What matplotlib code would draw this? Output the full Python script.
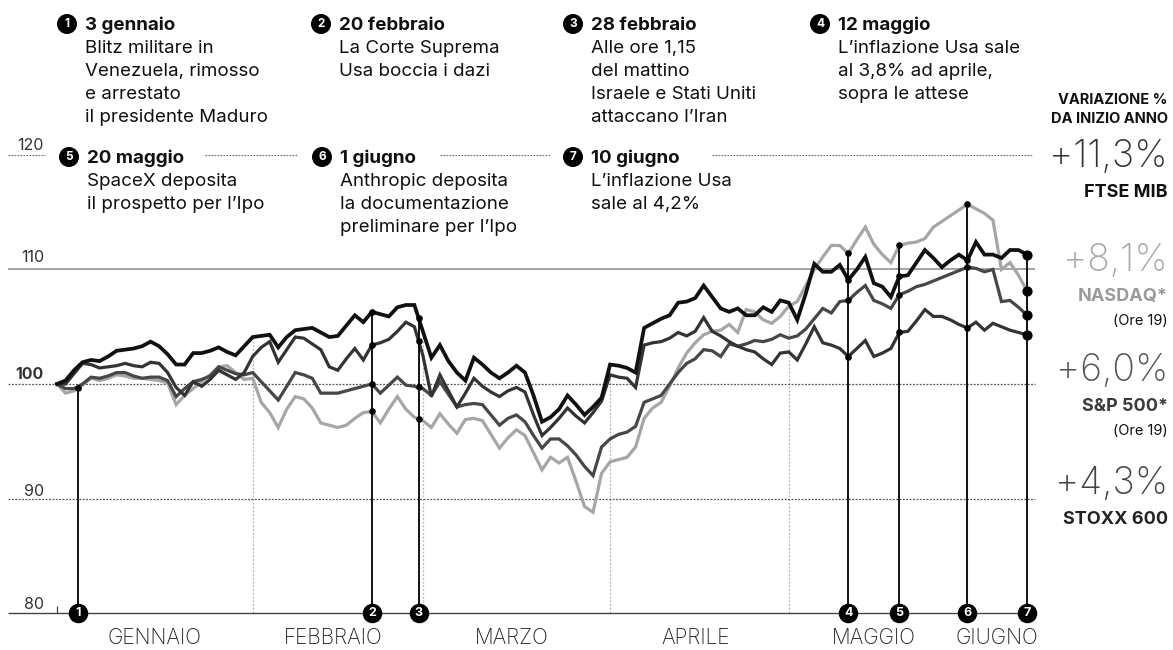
import matplotlib.pyplot as plt
import numpy as np
import pandas as pd

# sedute di borsa dal 31/12/2025 al 10/06/2026 (Venerdi Santo chiuso)
sessions = pd.bdate_range("2025-12-31", "2026-06-10")
sessions = sessions[sessions != pd.Timestamp("2026-04-03")]

# indici, base 100 al 31 dicembre
ftse = [100.0, 100.3, 101.2, 101.9, 102.1, 102.0, 102.4, 102.9, 103.0, 103.1,
        103.3, 103.7, 103.3, 102.6, 101.7, 101.7, 102.7, 102.7, 102.9, 103.2,
        102.8, 102.5, 103.3, 104.1, 104.2, 104.3, 103.2, 104.1, 104.7, 104.8,
        104.9, 104.5, 104.1, 104.2, 105.1, 106.0, 105.4, 106.3, 106.1, 105.9,
        106.7, 106.9, 106.9, 104.6, 102.3, 103.4, 102.0, 101.0, 100.3, 102.3,
        101.7, 101.0, 100.5, 101.0, 101.6, 101.0, 99.0, 96.7, 97.1, 97.8,
        99.0, 98.2, 97.3, 98.0, 98.8, 101.7, 101.6, 101.4, 101.0, 104.9,
        105.3, 105.7, 106.0, 107.1, 107.2, 107.5, 108.6, 107.6, 106.6, 106.3,
        106.6, 106.0, 106.0, 106.7, 106.3, 107.3, 107.1, 105.6, 107.9, 110.5,
        109.8, 109.8, 110.4, 109.1, 110.0, 111.1, 108.8, 108.5, 107.6, 109.4,
        109.5, 110.6, 111.7, 111.0, 110.2, 110.8, 111.3, 110.8, 112.4, 111.3,
        111.3, 111.0, 111.7, 111.7, 111.3]

nasdaq = [100.0, 99.2, 99.4, 99.9, 100.5, 100.3, 100.5, 100.8, 100.7, 100.5,
          100.5, 100.4, 100.3, 100.1, 98.2, 99.0, 99.6, 100.2, 100.8, 101.5,
          101.6, 101.0, 100.4, 100.5, 98.4, 97.5, 96.2, 97.8, 98.9, 98.7,
          97.9, 96.6, 96.4, 96.2, 96.4, 97.0, 97.5, 97.6, 96.6, 97.8,
          98.9, 97.8, 97.1, 96.8, 96.2, 97.4, 96.5, 95.7, 96.9, 97.0,
          96.8, 95.6, 94.4, 95.3, 96.0, 95.5, 94.0, 92.5, 93.6, 93.1,
          93.6, 91.5, 89.3, 88.8, 92.2, 93.2, 93.4, 93.6, 94.5, 97.0,
          97.9, 98.4, 99.8, 101.4, 102.7, 103.6, 104.3, 104.6, 104.7, 105.2,
          104.5, 106.5, 106.3, 105.6, 105.3, 105.9, 106.8, 107.2, 108.6, 110.0,
          111.1, 112.1, 112.1, 111.4, 112.6, 113.7, 112.2, 111.3, 110.6, 112.1,
          112.3, 112.4, 112.7, 113.7, 114.2, 114.7, 115.2, 115.7, 115.3, 114.9,
          114.3, 110.0, 110.6, 109.5, 108.1]

sp500 = [100.0, 99.6, 99.6, 100.0, 100.6, 100.5, 100.7, 101.0, 101.0, 100.7,
         100.5, 100.6, 100.6, 100.3, 98.9, 99.6, 100.2, 100.4, 100.7, 101.5,
         101.2, 100.9, 100.8, 101.0, 100.2, 99.4, 98.6, 99.8, 101.0, 100.8,
         100.5, 99.2, 99.2, 99.2, 99.4, 99.6, 99.8, 100.0, 99.2, 99.9,
         100.6, 99.9, 99.8, 99.6, 99.0, 100.2, 99.1, 98.0, 98.2, 98.3,
         98.2, 97.3, 96.4, 97.0, 97.3, 96.7, 95.5, 94.4, 95.2, 95.2,
         94.6, 93.8, 92.8, 92.0, 94.5, 95.2, 95.6, 95.8, 96.3, 98.4,
         98.7, 99.0, 100.0, 101.0, 101.8, 102.2, 103.0, 102.9, 102.4, 103.5,
         103.3, 103.5, 103.8, 103.7, 103.9, 104.3, 104.0, 104.2, 104.8, 105.7,
         106.6, 106.2, 107.2, 107.3, 108.0, 108.6, 107.3, 107.0, 106.6, 107.8,
         108.1, 108.5, 108.7, 109.0, 109.3, 109.6, 109.9, 110.2, 110.1, 109.8,
         110.0, 107.2, 107.3, 106.7, 106.0]

stoxx = [100.0, 100.0, 100.9, 101.8, 101.7, 101.4, 101.5, 101.6, 101.8, 101.6,
         101.5, 101.9, 101.8, 101.0, 99.7, 99.0, 100.2, 99.8, 100.4, 101.2,
         100.8, 100.4, 101.0, 102.4, 103.2, 103.7, 101.9, 103.0, 104.1, 104.0,
         103.5, 103.0, 101.5, 101.2, 102.2, 103.1, 102.1, 103.4, 103.6, 103.9,
         104.6, 105.4, 105.0, 102.5, 98.9, 100.8, 99.4, 98.0, 99.2, 100.5,
         99.8, 99.3, 98.9, 99.4, 99.7, 99.3, 97.3, 95.5, 96.2, 97.0,
         97.9, 97.2, 96.6, 97.5, 98.5, 100.8, 100.6, 100.5, 99.7, 103.4,
         103.6, 103.7, 104.0, 104.5, 104.2, 104.6, 105.8, 104.6, 104.2, 103.7,
         103.3, 103.0, 102.8, 102.2, 101.7, 102.7, 102.8, 102.1, 103.5, 105.0,
         103.6, 103.4, 103.1, 102.4, 103.1, 103.8, 102.4, 102.7, 103.1, 104.5,
         104.6, 105.5, 106.5, 105.9, 105.9, 105.6, 105.2, 104.9, 105.4, 104.7,
         105.3, 105.0, 104.7, 104.5, 104.3]

months = ["GENNAIO", "FEBBRAIO", "MARZO", "APRILE", "MAGGIO", "GIUGNO"]

event_dates = ["2026-01-03", "2026-02-20", "2026-02-28", "2026-05-12",
               "2026-05-20", "2026-06-01", "2026-06-10"]
event_titles = ["3 gennaio", "20 febbraio", "28 febbraio", "12 maggio",
                "20 maggio", "1 giugno", "10 giugno"]
event_texts = [
    ["Blitz militare in", "Venezuela, rimosso", "e arrestato", "il presidente Maduro"],
    ["La Corte Suprema", "Usa boccia i dazi"],
    ["Alle ore 1,15", "del mattino", "Israele e Stati Uniti", "attaccano l\u2019Iran"],
    ["L\u2019inflazione Usa sale", "al 3,8% ad aprile,", "sopra le attese"],
    ["SpaceX deposita", "il prospetto per l\u2019Ipo"],
    ["Anthropic deposita", "la documentazione", "preliminare per l\u2019Ipo"],
    ["L\u2019inflazione Usa", "sale al 4,2%"],
]

# nome, variazione %, nota
labels = [("FTSE MIB", "+11,3%", None),
          ("NASDAQ*", "+8,1%", "(Ore 19)"),
          ("S&P 500*", "+6,0%", "(Ore 19)"),
          ("STOXX 600", "+4,3%", None)]

# ---------------------------------------------------------------
W, H = 1173, 650
FONT = "Inter"
plt.rcParams["font.family"] = [FONT, "DejaVu Sans"]

k = np.arange(len(sessions))
series = {"NASDAQ*": nasdaq, "S&P 500*": sp500, "STOXX 600": stoxx, "FTSE MIB": ftse}
colors = {"FTSE MIB": "#111111", "NASDAQ*": "#a6a6a6", "S&P 500*": "#474747", "STOXX 600": "#333333"}
widths = {"FTSE MIB": 2.7, "NASDAQ*": 2.3, "S&P 500*": 2.3, "STOXX 600": 2.3}

# posizione degli eventi sull'asse delle sedute (sabato = a meta' tra due sedute)
ev_pos = []
for d in pd.to_datetime(event_dates):
    p = sessions.searchsorted(d)
    ev_pos.append(p if p < len(sessions) and sessions[p] == d else p - 0.5)
ev_pos = np.array(ev_pos, dtype=float)

fig = plt.figure(figsize=(W / 100, H / 100), dpi=100)
ax = fig.add_axes([0, 0, 1, 1])
# k=0 -> px 57, k=114 -> px 1027 ; 80 -> py 613, 120 -> py 155
kpp = (len(k) - 1) / 970
vpp = 40 / 458
ax.set_xlim(-57 * kpp, k[-1] + (W - 1027) * kpp)
ax.set_ylim(80 - (H - 613) * vpp, 120 + 155 * vpp)
ax.axis("off")


def kx(px):
    return (px - 57) * kpp


def fx(x):
    return x / W


def fy(y):
    return 1 - y / H


# griglia orizzontale
ax.hlines(110, kx(8), kx(1035), color="#8a8a8a", lw=1.1)
ax.hlines([100, 90], kx(8), kx(1035), color="#555555", lw=0.9, linestyles=(0, (1.5, 1.2)))
ax.hlines(80, kx(8), kx(1035), color="#444444", lw=1.0)
for a, b in [(8, 45), (205, 297), (440, 550), (712, 1032)]:
    ax.hlines(120, kx(a), kx(b), color="#666666", lw=0.8, linestyles=(0, (1.5, 1.2)))
ax.vlines(0, 80, 80.6, color="#444444", lw=0.9)

for val, py in [(120, 150), (110, 262), (100, 379), (90, 496), (80, 609)]:
    fig.text(fx(44), fy(py), str(val), ha="right", va="baseline", fontsize=11.5,
             color="#333333", fontweight="bold" if val == 100 else "normal")

# separatori dei mesi e nomi
month_idx = sessions.month.values
for m in range(2, 7):
    first = int(np.argmax(month_idx == m))
    top = max(s[first] for s in series.values())
    ax.vlines(first, 80, top, color="#b5b5b5", lw=0.9, linestyles=(0, (1.5, 1.5)), zorder=1)
for i, name in enumerate(months):
    c = k[month_idx == i + 1].mean()
    ax.text(c, 80 - 25 * vpp, name, ha="center", va="center", fontsize=15,
            fontweight="light", color="#222222")

# linee degli indici
for name, vals in series.items():
    ax.plot(k, vals, color=colors[name], lw=widths[name], solid_joinstyle="miter", zorder=3)

# linee degli eventi
for i, p in enumerate(ev_pos):
    vals = [np.interp(p, k, s) for s in series.values()]
    top = min(vals) if i == 0 else max(vals)
    ax.vlines(p, 80, top, color="black", lw=1.3, zorder=4)
    if i == 0:
        ax.scatter([p], [top], s=14, c="black", zorder=5)
    else:
        ax.scatter([p] * 4, vals, s=40 if i == 6 else 14, c="black", zorder=5)

ax.scatter(ev_pos, np.full(len(ev_pos), 80.0), s=170, c="black", zorder=6, clip_on=False)
for i, p in enumerate(ev_pos):
    ax.text(p, 80, str(i + 1), color="white", ha="center", va="center",
            fontsize=9, fontweight="bold", zorder=7)

# annotazioni in alto
note_xy = [(67, 30), (321, 30), (573, 30), (820, 30), (69, 163), (322, 163), (573, 163)]
for i, (cx, base) in enumerate(note_xy):
    fig.text(fx(cx), fy(base - 6), str(i + 1), color="white", ha="center", va="center",
             fontsize=8.5, fontweight="bold",
             bbox=dict(boxstyle="circle,pad=0.28", fc="black", ec="black"))
    tx = cx + 18
    fig.text(fx(tx), fy(base), event_titles[i], ha="left", va="baseline",
             fontsize=13.5, fontweight="bold", color="#111111")
    for j, line in enumerate(event_texts[i]):
        fig.text(fx(tx), fy(base + 23 * (j + 1)), line, ha="left", va="baseline",
                 fontsize=13.5, color="#111111")

# etichette a destra
fig.text(fx(1168), fy(104), "VARIAZIONE %", ha="right", va="baseline",
         fontsize=10.5, fontweight="bold", color="#111111")
fig.text(fx(1168), fy(123), "DA INIZIO ANNO", ha="right", va="baseline",
         fontsize=10.5, fontweight="bold", color="#111111")

num_color = {"FTSE MIB": "#333333", "NASDAQ*": "#a8a8a8", "S&P 500*": "#555555", "STOXX 600": "#444444"}
name_color = {"FTSE MIB": "#111111", "NASDAQ*": "#9a9a9a", "S&P 500*": "#3a3a3a", "STOXX 600": "#222222"}
label_base = [167, 271, 381, 494]
for (name, pct, note), base in zip(labels, label_base):
    fig.text(fx(1168), fy(base), pct, ha="right", va="baseline", fontsize=27,
             fontweight="light", color=num_color[name])
    fig.text(fx(1168), fy(base + 30), name, ha="right", va="baseline",
             fontsize=13, fontweight="bold", color=name_color[name])
    if note:
        fig.text(fx(1168), fy(base + 54), note, ha="right", va="baseline",
                 fontsize=10.5, color="#111111")

fig.savefig("out.png", dpi=100)
